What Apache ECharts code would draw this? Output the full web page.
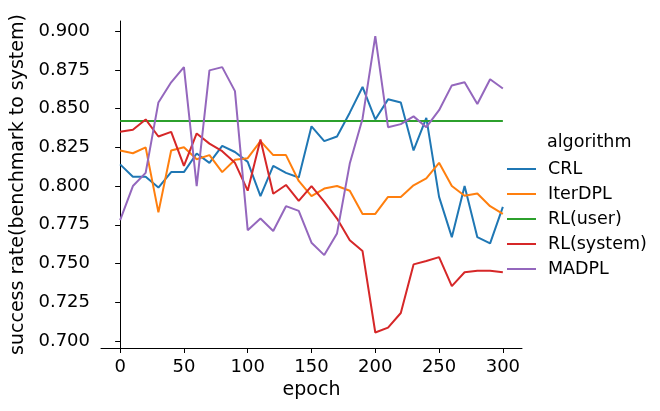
<!DOCTYPE html>
<html><head><meta charset="utf-8">
<script src="https://cdn.jsdelivr.net/npm/echarts@6/dist/echarts.min.js"></script>
<style>html,body{margin:0;padding:0;background:#fff}#c{width:660px;height:411px}</style>
</head><body><div id="c"></div>
<script>
const epochs = [0,10,20,30,40,50,60,70,80,90,100,110,120,130,140,150,160,170,180,190,200,210,220,230,240,250,260,270,280,290,300];
const CRL = [0.814,0.806,0.806,0.799,0.809,0.809,0.821,0.815,0.826,0.822,0.8156,0.7935,0.813,0.8085,0.8055,0.8386,0.829,0.832,0.8474,0.864,0.843,0.856,0.854,0.823,0.844,0.793,0.767,0.800,0.767,0.763,0.7866];
const IterDPL = [0.823,0.8212,0.825,0.783,0.823,0.825,0.8173,0.820,0.809,0.817,0.818,0.829,0.820,0.820,0.8033,0.7935,0.7984,0.800,0.797,0.782,0.782,0.793,0.793,0.8005,0.805,0.815,0.800,0.7937,0.7952,0.787,0.782];
const RLuser = [0.842,0.842,0.842,0.842,0.842,0.842,0.842,0.842,0.842,0.842,0.842,0.842,0.842,0.842,0.842,0.842,0.842,0.842,0.842,0.842,0.842,0.842,0.842,0.842,0.842,0.842,0.842,0.842,0.842,0.842,0.842];
const RLsystem = [0.835,0.8364,0.843,0.832,0.835,0.813,0.834,0.8274,0.8225,0.815,0.797,0.830,0.795,0.8007,0.7904,0.800,0.790,0.779,0.765,0.758,0.7054,0.7086,0.718,0.7494,0.7516,0.7541,0.7354,0.7443,0.7453,0.7453,0.7443];
const MADPL = [0.778,0.800,0.8085,0.854,0.867,0.8768,0.800,0.8747,0.8768,0.8613,0.7715,0.779,0.771,0.787,0.784,0.7634,0.7554,0.7694,0.8145,0.8435,0.8968,0.838,0.840,0.845,0.838,0.849,0.865,0.867,0.853,0.869,0.863];
const xTicks = [0,50,100,150,200,250,300];
const yTicks = [0.700,0.725,0.750,0.775,0.800,0.825,0.850,0.875,0.900];
const names = ['CRL','IterDPL','RL(user)','RL(system)','MADPL'];
const colors = ['#1f77b4','#ff7f0e','#2ca02c','#d62728','#9467bd'];
const seriesData = [CRL, IterDPL, RLuser, RLsystem, MADPL];
const FONT = 'DejaVu Sans';

const chart = echarts.init(document.getElementById('c'), null, {renderer:'canvas'});
chart.setOption({
  animation: false,
  textStyle: {fontFamily: FONT},
  grid: {left: 101, right: 138, top: 21, bottom: 63, containLabel: false},
  xAxis: {
    type: 'value', min: -15, max: 315,
    name: 'epoch', nameLocation: 'middle', nameGap: 33,
    nameTextStyle: {fontSize: 19, color: '#000', fontFamily: FONT},
    axisLine: {show: true, onZero: false, lineStyle: {color: '#000', width: 1}},
    axisTick: {show: true, length: 5, customValues: xTicks, lineStyle: {color: '#000'}},
    axisLabel: {customValues: xTicks, fontSize: 18, color: '#000', margin: 10, fontFamily: FONT},
    splitLine: {show: false}
  },
  yAxis: {
    type: 'value', min: 0.6954, max: 0.9066,
    name: 'success rate(benchmark to system)', nameLocation: 'middle', nameGap: 73,
    nameTextStyle: {fontSize: 19, color: '#000', fontFamily: FONT},
    axisLine: {show: true, lineStyle: {color: '#000', width: 1}},
    axisTick: {show: true, length: 5, customValues: yTicks, lineStyle: {color: '#000'}},
    axisLabel: {customValues: yTicks, fontSize: 18, color: '#000', margin: 11, fontFamily: FONT,
      formatter: v => v.toFixed(3)},
    splitLine: {show: false}
  },
  legend: {
    orient: 'vertical', left: 502, top: 155,
    icon: 'rect', itemWidth: 29, itemHeight: 2, itemGap: 7,
    textStyle: {fontSize: 17.5, color: '#000', fontFamily: FONT, lineHeight: 18, padding: [0,0,0,7]},
    data: names
  },
  graphic: [{type: 'text', left: 547, top: 133, style: {text: 'algorithm', fontSize: 17.5, fill: '#000', fontFamily: FONT}}],
  series: names.map((n, i) => ({
    name: n, type: 'line', showSymbol: false, symbol: 'none',
    data: epochs.map((e, j) => [e, seriesData[i][j]]),
    lineStyle: {color: colors[i], width: 2}, itemStyle: {color: colors[i]}
  }))
});
</script></body></html>
